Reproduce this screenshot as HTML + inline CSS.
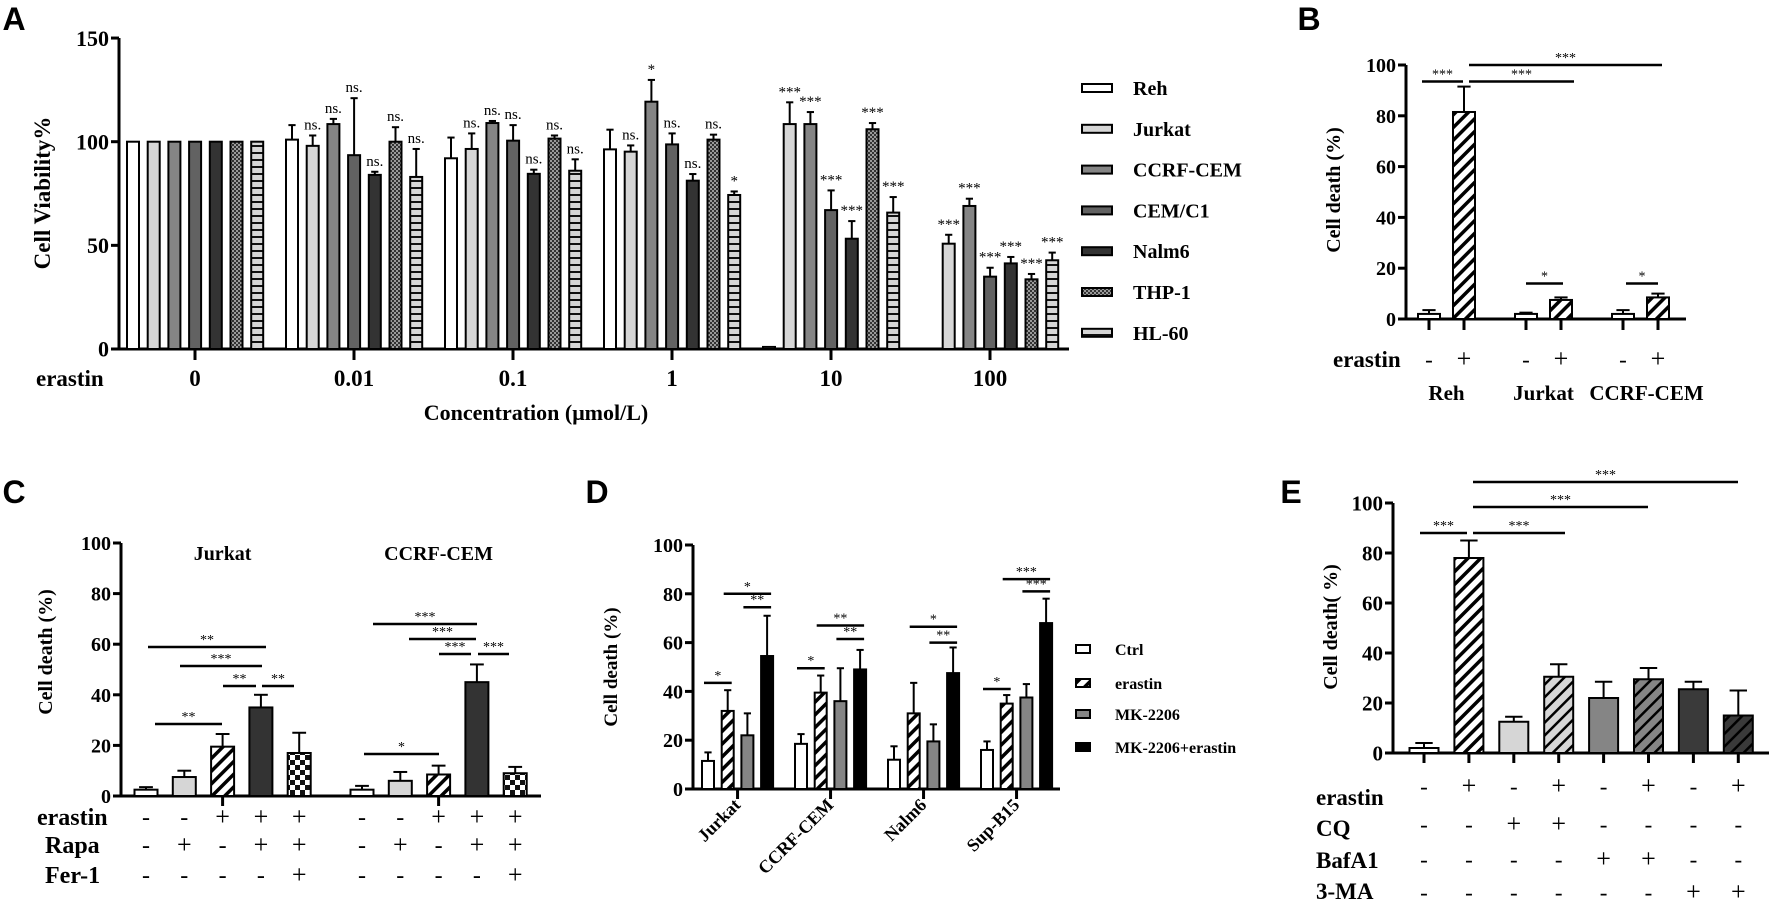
<!DOCTYPE html>
<html><head><meta charset="utf-8"><style>
html,body{margin:0;padding:0;background:#fff;}
svg{display:block;font-family:"Liberation Serif",serif;}
.pl{font-family:"Liberation Sans",sans-serif;font-weight:bold;font-size:32px;}
</style></head><body>
<svg id="fig" width="1772" height="905" viewBox="0 0 1772 905" xmlns="http://www.w3.org/2000/svg">
<defs>
<pattern id="hatchW" patternUnits="userSpaceOnUse" width="9" height="9" patternTransform="rotate(45)"><rect width="9" height="9" fill="#fff"/><rect width="3.5" height="9" fill="#000"/></pattern>
<pattern id="hatchL" patternUnits="userSpaceOnUse" width="9" height="9" patternTransform="rotate(45)"><rect width="9" height="9" fill="#d6d6d6"/><rect width="2.5" height="9" fill="#000"/></pattern>
<pattern id="hatchM" patternUnits="userSpaceOnUse" width="9" height="9" patternTransform="rotate(45)"><rect width="9" height="9" fill="#858585"/><rect width="2.5" height="9" fill="#000"/></pattern>
<pattern id="hatchD" patternUnits="userSpaceOnUse" width="9" height="9" patternTransform="rotate(45)"><rect width="9" height="9" fill="#3a3a3a"/><rect width="2.5" height="9" fill="#000"/></pattern>
<pattern id="checker" patternUnits="userSpaceOnUse" width="10" height="10"><rect width="10" height="10" fill="#fff"/><rect width="5" height="5" fill="#111"/><rect x="5" y="5" width="5" height="5" fill="#111"/></pattern>
<pattern id="dots" patternUnits="userSpaceOnUse" width="4" height="4"><rect width="4" height="4" fill="#9a9a9a"/><rect width="2" height="2" fill="#333"/><rect x="2" y="2" width="2" height="2" fill="#333"/></pattern>
<pattern id="hstripe" patternUnits="userSpaceOnUse" width="8" height="7"><rect width="8" height="7" fill="#d6d6d6"/><rect y="5" width="8" height="2" fill="#111"/></pattern>
</defs>
</svg>
<script>
// ---------- Panel A data ----------
const aConcs = ['0','0.01','0.1','1','10','100'];
const aLines = ['Reh','Jurkat','CCRF-CEM','CEM/C1','Nalm6','THP-1','HL-60'];
const aReh    = [100, 101, 92, 96.3, 1, 0];
const aRehErr = [100, 108, 102, 105.8, 1, 0];
const aJur    = [100, 98, 96.5, 95.2, 108.5, 50.8];
const aJurErr = [100, 103, 104, 98.2, 119, 55.1];
const aCcrf   = [100, 108.5, 109, 119.3, 108.5, 69];
const aCcrfErr= [100, 111, 110, 129.8, 114.3, 72.5];
const aCem    = [100, 93.5, 100.5, 98.7, 67, 34.9];
const aCemErr = [100, 121, 108, 104, 76.5, 39.2];
const aNalm   = [100, 84, 84.5, 81.2, 53.2, 41.3];
const aNalmErr= [100, 85.5, 86.5, 84.4, 61.7, 44.4];
const aThp    = [100, 100, 101.5, 101, 106, 33.6];
const aThpErr = [100, 107, 103, 103.4, 109, 36.2];
const aHl     = [100, 83, 86, 74.3, 65.8, 42.8];
const aHlErr  = [100, 96.5, 91.5, 76, 73.3, 46.5];
const aSigReh = ['','','','','',''];
const aSigJur = ['','ns.','ns.','ns.','***','***'];
const aSigCcrf= ['','ns.','ns.','*','***','***'];
const aSigCem = ['','ns.','ns.','ns.','***','***'];
const aSigNalm= ['','ns.','ns.','ns.','***','***'];
const aSigThp = ['','ns.','ns.','ns.','***','***'];
const aSigHl  = ['','ns.','ns.','*','***','***'];
const aTicks = [0,50,100,150];
// ---------- Panel B data ----------
const bCells = ['Reh','Jurkat','CCRF-CEM'];
const bCtrl = [2, 2, 2];
const bCtrlErr = [3.5, 2.5, 3.5];
const bEra = [81.5, 7.5, 8.5];
const bEraErr = [91.5, 8.5, 10];
const bTicks = [0,20,40,60,80,100];
// ---------- Panel C data ----------
const cCells = ['Jurkat','CCRF-CEM'];
const cJur = [2.5, 7.5, 19.5, 35, 17];
const cJurErr = [3.5, 10, 24.5, 40, 25];
const cCcrf = [2.5, 6, 8.5, 45, 9];
const cCcrfErr = [4, 9.5, 12, 52, 11.5];
const cErastin = ['-','-','+','+','+'];
const cRapa = ['-','+','-','+','+'];
const cFer = ['-','-','-','-','+'];
const cTicks = [0,20,40,60,80,100];
// ---------- Panel D data ----------
const dCells = ['Jurkat','CCRF-CEM','Nalm6','Sup-B15'];
const dSeries = ['Ctrl','erastin','MK-2206','MK-2206+erastin'];
const dCtrl = [11.5, 18.5, 12, 16];
const dCtrlErr = [15, 22.5, 17.5, 19.5];
const dEra = [32, 39.5, 31, 35];
const dEraErr = [40.5, 46.5, 43.5, 38.5];
const dMk = [22, 36, 19.5, 37.5];
const dMkErr = [31, 49.5, 26.5, 43];
const dCombo = [54.5, 49, 47.5, 68];
const dComboErr = [71, 57, 58, 78];
const dTicks = [0,20,40,60,80,100];
// ---------- Panel E data ----------
const eVals = [2, 78, 12.5, 30.5, 22, 29.5, 25.5, 15];
const eErr = [4, 85, 14.5, 35.5, 28.5, 34, 28.5, 25];
const eErastin = ['-','+','-','+','-','+','-','+'];
const eCQ = ['-','-','+','+','-','-','-','-'];
const eBaf = ['-','-','-','-','+','+','-','-'];
const eMA = ['-','-','-','-','-','-','+','+'];
const eTicks = [0,20,40,60,80,100];

const NS='http://www.w3.org/2000/svg';
const svg=document.getElementById('fig');
function mk(tag,parent){const e=document.createElementNS(NS,tag);(parent||svg).appendChild(e);return e;}
function line(x1,y1,x2,y2,w,name){const l=mk('line');l.setAttribute('x1',x1);l.setAttribute('y1',y1);l.setAttribute('x2',x2);l.setAttribute('y2',y2);l.setAttribute('stroke','#000');l.setAttribute('stroke-width',w);


return l;}
function text(x,y,s,size,anchor,name,weight,rot){const t=mk('text');t.setAttribute('x',x);t.setAttribute('y',y);t.setAttribute('font-size',size);t.setAttribute('text-anchor',anchor||'middle');t.setAttribute('font-weight',weight||'bold');if(rot){t.setAttribute('transform','rotate('+rot+' '+x+' '+y+')');}t.textContent=s;


return t;}
function bar(cx,w,v,err,ys,fill,name){const y0=ys(0),y1=ys(v);
if(err>v){line(cx,ys(err),cx,y1,2,name+'-error');line(cx-w*0.3,ys(err),cx+w*0.3,ys(err),2,name+'-error-cap');}
const r=mk('rect');r.setAttribute('x',cx-w/2);r.setAttribute('y',Math.min(y1,y0-1));r.setAttribute('width',w);r.setAttribute('height',Math.max(y0-y1,1));r.setAttribute('fill',fill);r.setAttribute('stroke','#000');r.setAttribute('stroke-width',2);


return r;}
function bracket(x1,x2,y,label,size,name){line(x1,y,x2,y,2.5,name);text((x1+x2)/2,y-3,label,size,'middle',name+'-label','normal');}
function yaxis(x,ys,ticks,top,size,name){line(x,ys(0)+1.5,x,ys(top),3,name);
ticks.forEach(t=>{line(x-8,ys(t),x,ys(t),3,name+'-tick');text(x-10,ys(t)+size*0.35,String(t),size,'end',name+'-tick-label');});}

// ===== Panel A =====
text(14,30,'A',32,'middle','panel-label-a');
svg.lastChild.setAttribute('class','pl');
const yA=v=>349-v*2.073;
const xA=i=>195+i*159;
yaxis(119,yA,aTicks,150,22,'a-y-axis');
line(117.5,349,1069,349,3,'a-x-axis');
text(50,193,'Cell Viability%',23,'middle','a-y-axis-title','bold',-90);
text(36,386,'erastin',23,'start','a-erastin-label');
text(536,420,'Concentration (\u03bcmol/L)',22,'middle','a-x-axis-title');
const aSeries=[[aReh,aRehErr,aSigReh,'#fff'],[aJur,aJurErr,aSigJur,'#d6d6d6'],[aCcrf,aCcrfErr,aSigCcrf,'#858585'],[aCem,aCemErr,aSigCem,'#626262'],[aNalm,aNalmErr,aSigNalm,'#333'],[aThp,aThpErr,aSigThp,'url(#dots)'],[aHl,aHlErr,aSigHl,'url(#hstripe)']];
aConcs.forEach((c,i)=>{
  line(xA(i),349,xA(i),360,3,'a-x-tick');
  text(xA(i),386,c,23,'middle','a-category-label');
  aSeries.forEach((s,k)=>{
    const cx=xA(i)-62+k*20.7;
    if(s[0][i]>0) bar(cx,12,s[0][i],s[1][i],yA,s[3],'a-bar-'+aLines[k].toLowerCase());
    if(s[2][i]) text(cx,yA(Math.max(s[1][i],s[0][i]))-6,s[2][i],15,'middle','a-significance','normal');
  });
});
aLines.forEach((n,k)=>{
  const ly=88+k*40.8;
  const r=mk('rect');r.setAttribute('x',1082);r.setAttribute('y',ly-4);r.setAttribute('width',30);r.setAttribute('height',8);r.setAttribute('fill',aSeries[k][3]);r.setAttribute('stroke','#000');r.setAttribute('stroke-width',2);
  
  
  text(1133,ly+7,n,20,'start','a-legend-entry');
});

// ===== Panel B =====
text(1309,30,'B',32,'middle','panel-label-b');
svg.lastChild.setAttribute('class','pl');
const yB=v=>319-v*2.54;
const xB=(g,k)=>1447+g*97+(k?17:-18);
yaxis(1406,yB,bTicks,100,20,'b-y-axis');
line(1404.5,319,1686,319,3,'b-x-axis');
text(1340,190,'Cell death (%)',20,'middle','b-y-axis-title','bold',-90);
text(1333,367,'erastin',23,'start','b-erastin-label');
bCells.forEach((c,g)=>{
  bar(xB(g,0),22,bCtrl[g],bCtrlErr[g],yB,'#fff','b-bar-ctrl');
  bar(xB(g,1),22,bEra[g],bEraErr[g],yB,'url(#hatchW)','b-bar-erastin');
  line(xB(g,0),319,xB(g,0),330,3,'b-x-tick');
  line(xB(g,1),319,xB(g,1),330,3,'b-x-tick');
  text(xB(g,0),367,'-',23,'middle','b-sign','normal');
  text(xB(g,1),367,'+',26,'middle','b-sign','normal');
  text((xB(g,0)+xB(g,1))/2+(g===2?6:0),400,c,21,'middle','b-category-label');
});
bracket(1422,1463,yB(93.5),'***',14,'b-bracket');
bracket(1469,1574,yB(93.5),'***',14,'b-bracket');
bracket(1469,1662,yB(100),'***',14,'b-bracket');
bracket(1526,1563,yB(14),'*',14,'b-bracket');
bracket(1626,1658,yB(14),'*',14,'b-bracket');

// ===== Panel C =====
text(14,503,'C',32,'middle','panel-label-c');
svg.lastChild.setAttribute('class','pl');
const yC=v=>796-v*2.53;
const xC=(g,k)=>146+g*216+k*38.3;
yaxis(121,yC,cTicks,100,20,'c-y-axis');
line(119.5,796,541,796,3,'c-x-axis');
text(52,652,'Cell death (%)',20,'middle','c-y-axis-title','bold',-90);
text(37,825,'erastin',24,'start','c-erastin-label');
text(45,853,'Rapa',24,'start','c-rapa-label');
text(45,883,'Fer-1',24,'start','c-fer1-label');
const cFills=['#fff','#d6d6d6','url(#hatchW)','#333','url(#checker)'];
[cJur,cCcrf].forEach((vals,g)=>{
  const errs=g?cCcrfErr:cJurErr;
  text(xC(g,2),560,cCells[g],20,'middle','c-group-title');
  line(xC(g,2),796,xC(g,2),806,3,'c-x-tick');
  vals.forEach((v,k)=>{
    bar(xC(g,k),23,v,errs[k],yC,cFills[k],'c-bar');
    text(xC(g,k),825,cErastin[k],cErastin[k]==='+'?26:24,'middle','c-sign','normal');
    text(xC(g,k),853,cRapa[k],cRapa[k]==='+'?26:24,'middle','c-sign','normal');
    text(xC(g,k),883,cFer[k],cFer[k]==='+'?26:24,'middle','c-sign','normal');
  });
});
bracket(148,266,647,'**',14,'c-bracket');
bracket(180,262,666,'***',14,'c-bracket');
bracket(223,256,686,'**',14,'c-bracket');
bracket(262,294,686,'**',14,'c-bracket');
bracket(155,222,724,'**',14,'c-bracket');
bracket(373,477,624,'***',14,'c-bracket');
bracket(409,476,639,'***',14,'c-bracket');
bracket(439,471,654,'***',14,'c-bracket');
bracket(478,509,654,'***',14,'c-bracket');
bracket(364,439,754,'*',14,'c-bracket');

// ===== Panel D =====
text(597,503,'D',32,'middle','panel-label-d');
svg.lastChild.setAttribute('class','pl');
const yD=v=>789-v*2.44;
const xD=(g,k)=>708+g*93+k*19.7;
yaxis(693,yD,dTicks,100,20,'d-y-axis');
line(691.5,789,1060,789,3,'d-x-axis');
text(617,667,'Cell death (%)',19,'middle','d-y-axis-title','bold',-90);
const dFills=['#fff','url(#hatchW)','#858585','#000'];
const dData=[[dCtrl,dCtrlErr],[dEra,dEraErr],[dMk,dMkErr],[dCombo,dComboErr]];
dCells.forEach((c,g)=>{
  const tx=xD(g,1.5);
  line(tx,789,tx,799,3,'d-x-tick');
  text(tx+4,806,c,18,'end','d-category-label','bold',-45);
  dData.forEach((s,k)=>bar(xD(g,k),12,s[0][g],s[1][g],yD,dFills[k],'d-bar-'+dSeries[k].toLowerCase()));
});
const dBr=[[0,0,1,43.5,'*'],[0,1,3,80,'*'],[0,2,3,74.5,'**'],[1,0,1,49.5,'*'],[1,1,3,67,'**'],[1,2,3,61.5,'**'],[2,1,3,66.5,'*'],[2,2,3,60,'**'],[3,0,1,41,'*'],[3,1,3,86,'***'],[3,2,3,81,'***']];
dBr.forEach(b=>bracket(xD(b[0],b[1])-4,xD(b[0],b[2])+4,yD(b[3]),b[4],14,'d-bracket'));
dSeries.forEach((n,k)=>{
  const ly=[649,683,714,747][k];
  const r=mk('rect');r.setAttribute('x',1076);r.setAttribute('y',ly-4);r.setAttribute('width',14);r.setAttribute('height',8);r.setAttribute('fill',dFills[k]);r.setAttribute('stroke','#000');r.setAttribute('stroke-width',2);
  
  
  text(1115,ly+6,n,16,'start','d-legend-entry');
});

// ===== Panel E =====
text(1291,503,'E',32,'middle','panel-label-e');
svg.lastChild.setAttribute('class','pl');
const yE=v=>753-v*2.5;
const xE=k=>1424+k*44.9;
yaxis(1393,yE,eTicks,100,21,'e-y-axis');
line(1391.5,753,1769,753,3,'e-x-axis');
text(1337,627,'Cell death( %)',20,'middle','e-y-axis-title','bold',-90);
text(1316,805,'erastin',23,'start','e-erastin-label');
text(1316,836,'CQ',23,'start','e-cq-label');
text(1316,868,'BafA1',23,'start','e-bafa1-label');
text(1316,899,'3-MA',23,'start','e-3ma-label');
const eFills=['#fff','url(#hatchW)','#d6d6d6','url(#hatchL)','#858585','url(#hatchM)','#3a3a3a','url(#hatchD)'];
eVals.forEach((v,k)=>{
  bar(xE(k),29,v,eErr[k],yE,eFills[k],'e-bar');
  line(xE(k),753,xE(k),763,3,'e-x-tick');
  [[eErastin,794],[eCQ,832],[eBaf,867],[eMA,900]].forEach(r=>text(xE(k),r[1],r[0][k],r[0][k]==='+'?26:23,'middle','e-sign','normal'));
});
bracket(1420,1467,yE(88),'***',14,'e-bracket');
bracket(1473,1565,yE(88),'***',14,'e-bracket');
bracket(1473,1648,yE(98.4),'***',14,'e-bracket');
bracket(1473,1738,yE(108.4),'***',14,'e-bracket');
</script>
</body></html>
